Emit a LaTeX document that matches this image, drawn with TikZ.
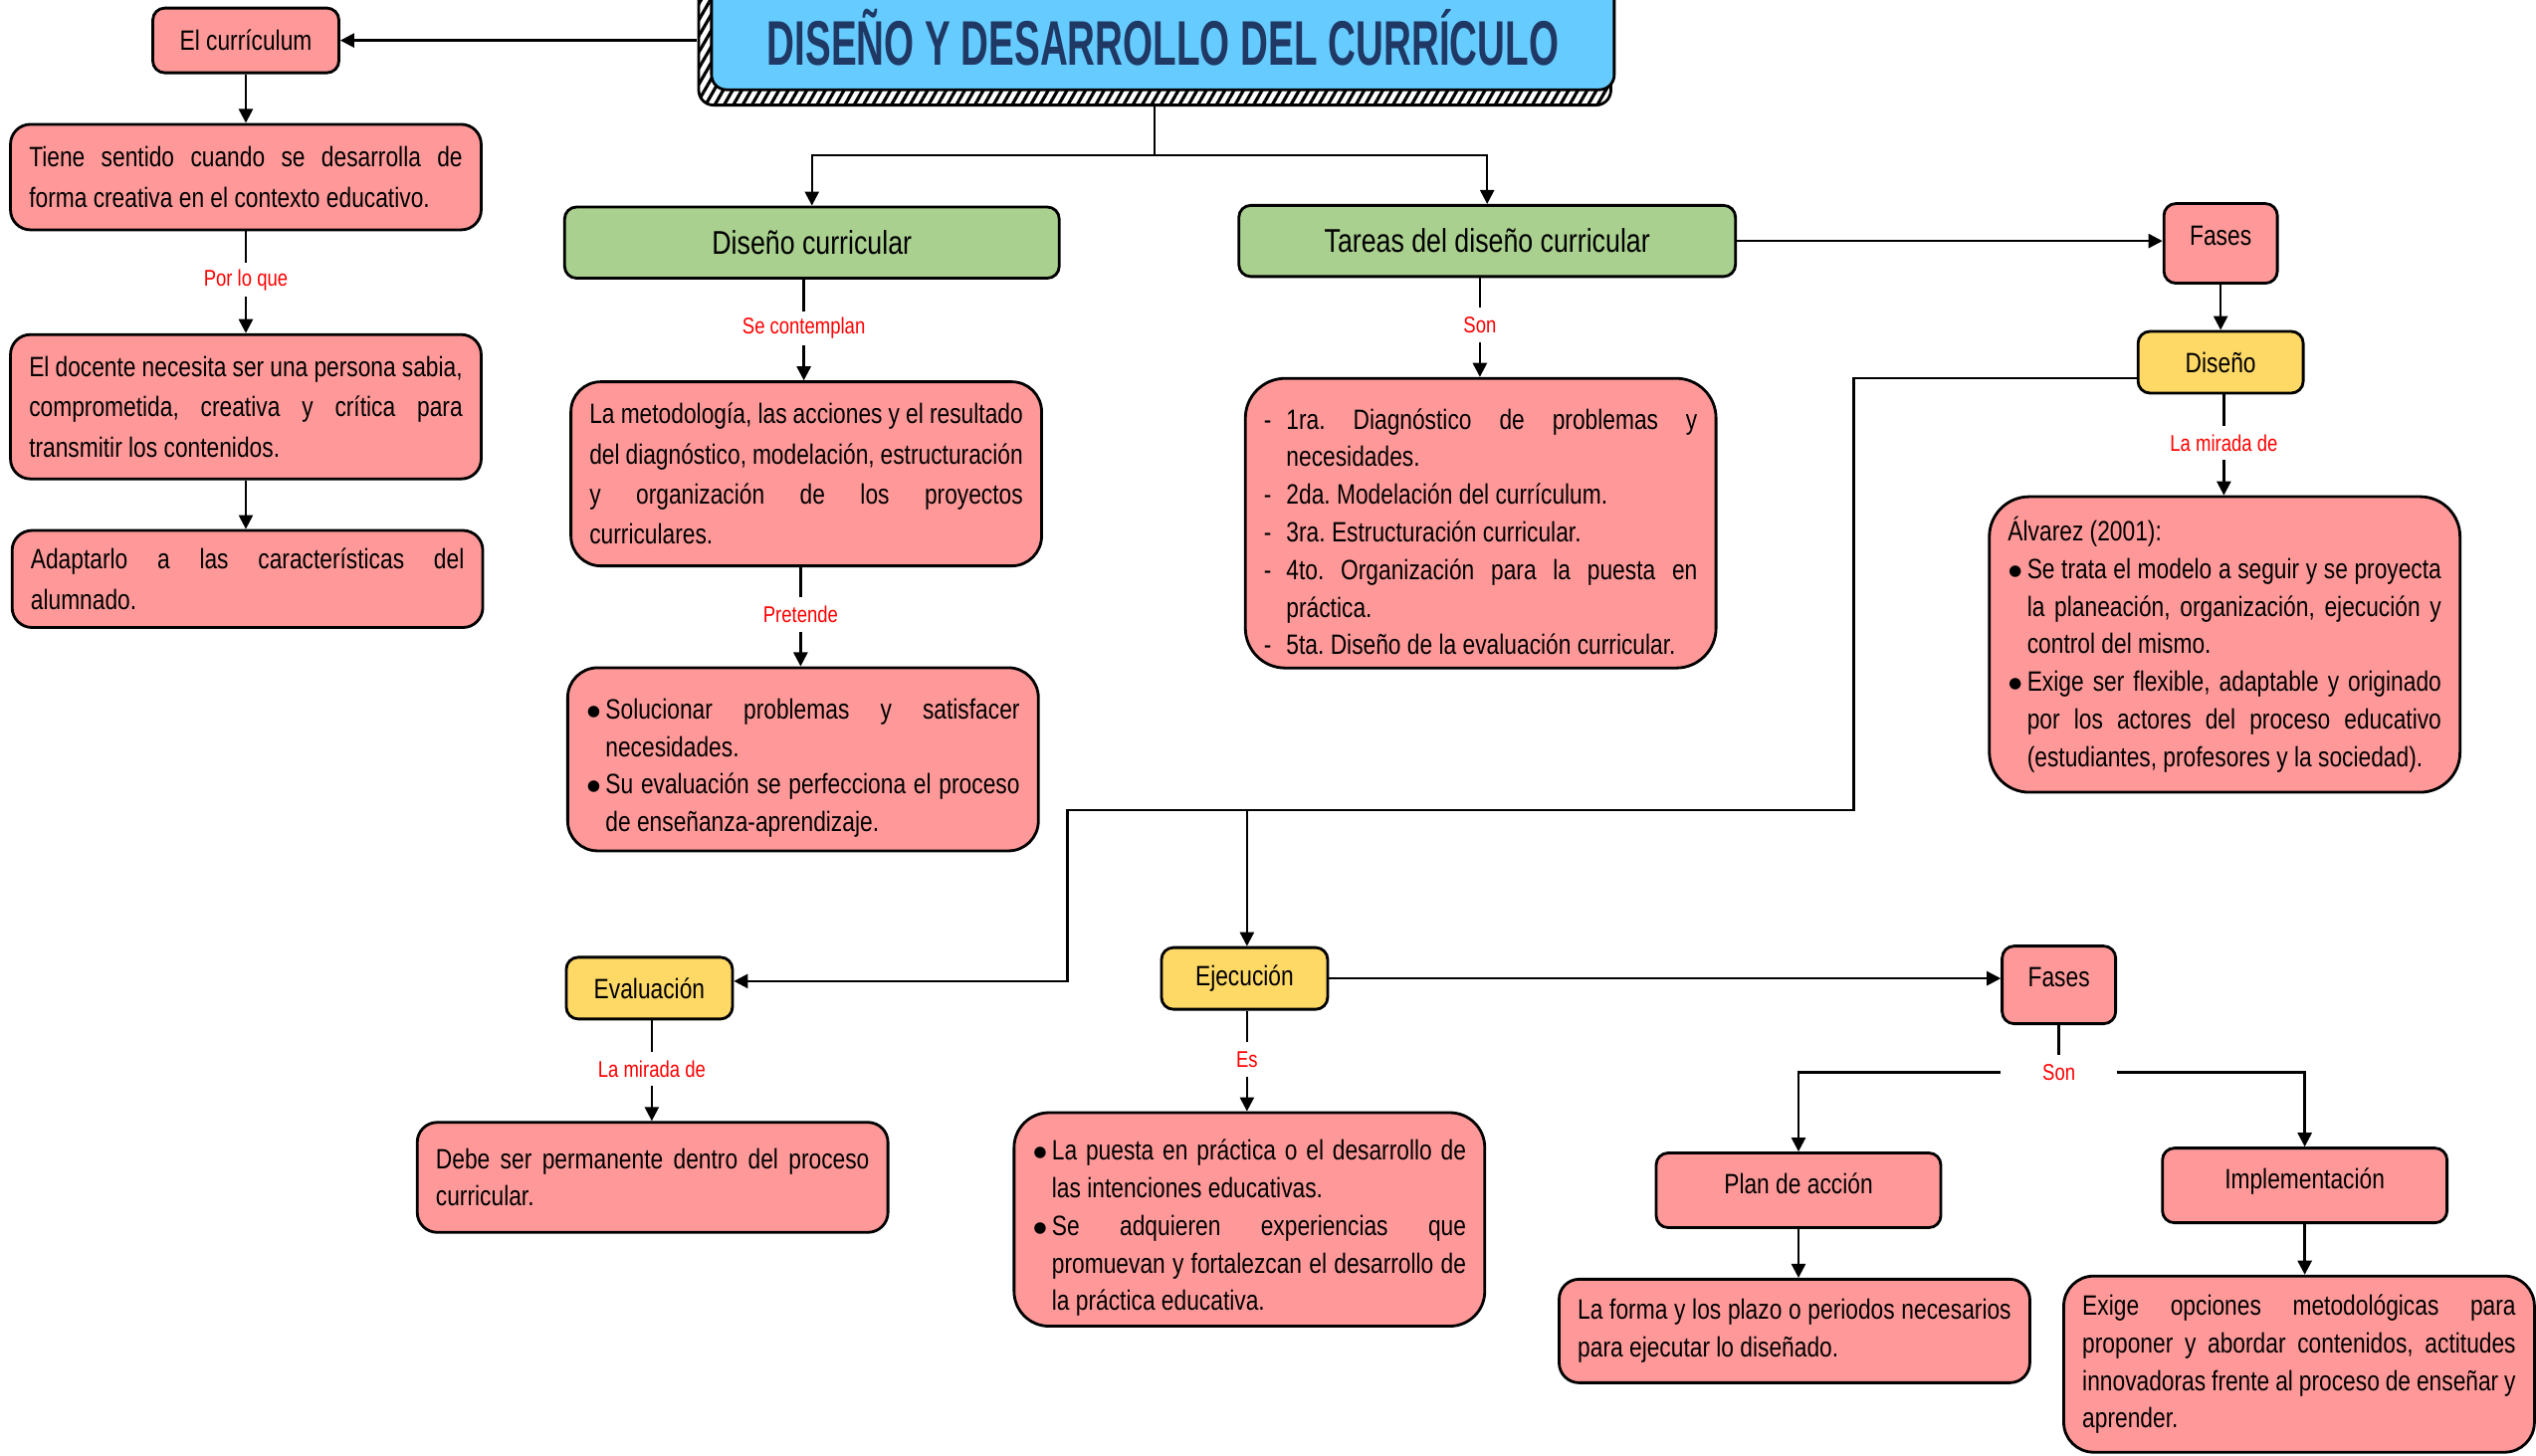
\documentclass[tikz,border=0pt]{standalone}
\usepackage{fontspec}
\setmainfont{Liberation Sans}[FakeStretch=0.81]
\newfontfamily\titlefont{Liberation Sans}[FakeStretch=0.61]
\usetikzlibrary{arrows.meta,patterns.meta}
\definecolor{pinkbox}{RGB}{255,153,153}
\definecolor{greenbox}{RGB}{169,208,142}
\definecolor{yellowbox}{RGB}{255,217,102}
\definecolor{bluebox}{RGB}{102,204,255}
\definecolor{titleblue}{RGB}{31,56,100}
\hyphenpenalty=10000
\exhyphenpenalty=10000
\tolerance=9999
\frenchspacing
\newcommand{\bitem}{\par\hangindent=5.5pt\hangafter=1\noindent\makebox[5.5pt][l]{$\bullet$}}
\newcommand{\ditem}{\par\hangindent=6.4pt\hangafter=1\noindent\makebox[6.4pt][l]{-}}
\begin{document}
\begin{tikzpicture}[x=0.01625cm,y=-0.01625cm,
	>={Triangle[length=4pt,width=4pt]},
	box/.style={rectangle,draw=black,line width=0.8pt,fill=pinkbox,rounded corners=0.3cm,text width=4.355cm,inner xsep=0.187cm,inner ysep=0pt,align=justify,font=\fontsize{8}{10.75}\selectfont},
	loose/.style={font=\fontsize{8}{11.5}\selectfont},
	tag/.style={rectangle,draw=black,line width=0.8pt,rounded corners=0.12cm,inner sep=0pt,font=\fontsize{8}{10}\selectfont},
	head/.style={tag,fill=greenbox,font=\fontsize{9.4}{11}\selectfont},
	phase/.style={tag,fill=yellowbox},
	lbl/.style={rectangle,inner sep=0pt,minimum height=0.33cm,text=red,font=\fontsize{6.5}{8}\selectfont},
	link/.style={line width=0.7pt}]
	
	\useasboundingbox (0,0) rectangle (1568,900);
	
	%title
	\node[rectangle,draw=black,line width=0.8pt,rounded corners=0.15cm,pattern={Lines[angle=60,distance=2.3pt,line width=0.9pt]},minimum width=9.165cm,minimum height=1.219cm](tshadow) at (714,27.5) {};
	\node[rectangle,draw=black,line width=0.8pt,fill=bluebox,rounded corners=0.15cm,minimum width=9.07cm,minimum height=1.056cm,text=titleblue,font=\titlefont\bfseries\fontsize{18}{20}\selectfont](title) at (719,23) {DISEÑO Y DESARROLLO DEL CURRÍCULO};
	
	%curriculum
	\node[tag,fill=pinkbox,minimum width=1.87cm,minimum height=0.65cm](curr) at (152,25) {El currículum};
	\node[box,loose,minimum height=1.06cm,rounded corners=0.2cm](tiene) at (152,109.5) {Tiene sentido cuando se desarrolla de forma creativa en el contexto educativo.};
	\node[lbl](porlo) at (152,173) {Por lo que};
	\node[box,loose,minimum height=1.45cm,rounded corners=0.2cm](docente) at (152,251.5) {El docente necesita ser una persona sabia,\linebreak comprometida, creativa y crítica para\linebreak transmitir los contenidos.};
	\node[box,loose,minimum height=0.975cm,rounded corners=0.2cm](adapt) at (153,358) {Adaptarlo a las características del alumnado.};
	
	%diseno curricular
	\node[head,minimum width=4.97cm,minimum height=0.715cm](dcur) at (502,150) {Diseño curricular};
	\node[lbl](secont) at (497,203) {Se contemplan};
	\node[box,loose,minimum height=1.85cm](metod) at (498.5,293) {La metodología, las acciones y el resultado\linebreak del diagnóstico, modelación, estructuración\linebreak y organización de los proyectos\linebreak curriculares.};
	\node[lbl](pret) at (495,380) {Pretende};
	\node[box,minimum height=1.84cm](soluc) at (496.5,469.5) {\bitem Solucionar problemas y satisfacer necesidades.\bitem Su evaluación se perfecciona el proceso de enseñanza-aprendizaje.\par};
	
	%tareas
	\node[head,minimum width=4.99cm,minimum height=0.715cm](tareas) at (919.5,149) {Tareas del diseño curricular};
	\node[lbl](son1) at (915,201) {Son};
	\node[box,minimum height=2.91cm,rounded corners=0.4cm](lista) at (915.5,323.5) {\ditem 1ra. Diagnóstico de problemas y necesidades.\ditem 2da. Modelación del currículum.\ditem 3ra. Estructuración curricular.\ditem 4to. Organización para la puesta en práctica.\ditem 5ta. Diseño de la evaluación curricular.\par};
	
	%fases
	\node[tag,fill=pinkbox,minimum width=1.14cm,minimum height=0.8cm,text depth=0.15cm](fases) at (1373,150.5) {Fases};
	\node[phase,minimum width=1.66cm,minimum height=0.62cm](diseno) at (1373,224) {Diseño};
	\node[lbl](mirada) at (1375,274) {La mirada de};
	\node[box,minimum height=2.97cm,rounded corners=0.4cm](alvarez) at (1375.5,398.5) {Álvarez (2001):\bitem Se trata el modelo a seguir y se proyecta la planeación, organización, ejecución y control del mismo.\bitem Exige ser flexible, adaptable y originado por los actores del proceso educativo (estudiantes, profesores y la sociedad).\par};
	
	%evaluacion
	\coordinate (bend) at (1146,501);
	\coordinate (turn) at (660,501);
	\coordinate (fork) at (771,501);
	\node[phase,minimum width=1.67cm,minimum height=0.62cm](eval) at (401.5,611) {Evaluación};
	\node[lbl](mirada2) at (403,661) {La mirada de};
	\node[box,minimum height=1.105cm,rounded corners=0.2cm](debe) at (403.5,728) {Debe ser permanente dentro del proceso curricular.};
	
	%ejecucion
	\node[phase,minimum width=1.67cm,minimum height=0.62cm](ejec) at (769.5,605) {Ejecución};
	\node[lbl](es) at (771,655) {Es};
	\node[box,minimum height=2.145cm,rounded corners=0.35cm](puesta) at (772.5,754) {\bitem La puesta en práctica o el desarrollo de las intenciones educativas.\bitem Se adquieren experiencias que promuevan y fortalezcan el desarrollo de la práctica educativa.\par};
	\node[tag,fill=pinkbox,minimum width=1.14cm,minimum height=0.78cm,text depth=0.15cm](fases2) at (1273,609) {Fases};
	\node[lbl,minimum width=1.15cm](son2) at (1273,663) {Son};
	\node[tag,fill=pinkbox,minimum width=2.86cm,minimum height=0.75cm,text depth=0.13cm](plan) at (1112,736) {Plan de acción};
	\node[box,minimum height=1.04cm,rounded corners=0.2cm](forma) at (1109.5,823) {La forma y los plazo o periodos necesarios para ejecutar lo diseñado.};
	\node[tag,fill=pinkbox,minimum width=2.86cm,minimum height=0.75cm,text depth=0.13cm](impl) at (1425,733) {Implementación};
	\node[box,minimum height=1.77cm,rounded corners=0.3cm](exige) at (1421.5,843.5) {Exige opciones metodológicas para\linebreak proponer y abordar contenidos, actitudes\linebreak innovadoras frente al proceso de enseñar y\linebreak aprender.};
	
	%arrows
	\coordinate (split) at (714,96);
	\draw[link,->] (tshadow.west |- curr) -- (curr);
	\draw[link,->] (curr) -- (tiene);
	\draw[link] (tiene) -- (porlo);
	\draw[link,->] (porlo) -- (docente);
	\draw[link,->] (docente) -- (docente |- adapt.north);
	\draw[link] (tshadow) -- (split);
	\draw[link,->] (split) -| (dcur);
	\draw[link,->] (split) -| (tareas);
	\draw[link] (dcur.south -| secont) -- (secont);
	\draw[link,->] (secont) -- (secont |- metod.north);
	\draw[link] (metod.south -| pret) -- (pret);
	\draw[link,->] (pret) -- (pret |- soluc.north);
	\draw[link] (tareas.south -| son1) -- (son1);
	\draw[link,->] (son1) -- (son1 |- lista.north);
	\draw[link,->] (tareas) -- (tareas -| fases.west);
	\draw[link,->] (fases) -- (diseno);
	\draw[link] (diseno.south -| mirada) -- (mirada);
	\draw[link,->] (mirada) -- (mirada |- alvarez.north);
	\draw[link,->] ([yshift=-0.16cm]diseno.west) -| (bend) -- (turn) |- ([yshift=0.07cm]eval.east);
	\draw[link,->] (fork) -- (fork |- ejec.north);
	\draw[link] (eval.south -| mirada2) -- (mirada2);
	\draw[link,->] (mirada2) -- (mirada2 |- debe.north);
	\draw[link] (ejec.south -| es) -- (es);
	\draw[link,->] (es) -- (es |- puesta.north);
	\draw[link,->] (ejec) -- (ejec -| fases2.west);
	\draw[link] (fases2) -- (son2);
	\draw[link,->] (son2) -| (plan);
	\draw[link,->] (son2) -| (impl);
	\draw[link,->] (plan) -- (plan |- forma.north);
	\draw[link,->] (impl) -- (impl |- exige.north);
	\end{tikzpicture}
\end{document}
